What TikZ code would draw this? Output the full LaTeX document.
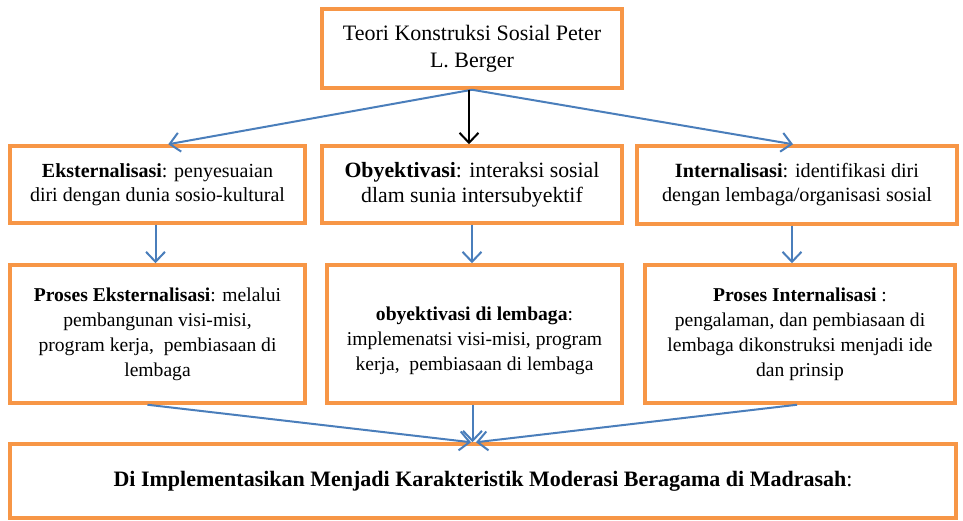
\documentclass[tikz,border=0pt]{standalone}
\usepackage{fontspec}
\setmainfont{Liberation Serif}
\usetikzlibrary{arrows.meta}
\definecolor{boxorange}{HTML}{F79646}
\definecolor{arrowblue}{HTML}{4A7EBB}
\tikzset{
  box/.style={draw=boxorange, line width=3.5pt, fill=white, align=center, inner sep=2pt},
  bluearrow/.style={draw=arrowblue, line width=2pt, -{Straight Barb[length=10pt,width=19pt,line width=2pt]}},
  blackarrow/.style={draw=black, line width=2pt, -{Straight Barb[length=10pt,width=19pt,line width=2pt]}},
  fA/.style={font=\fontsize{22}{27}\selectfont},
  fB/.style={font=\fontsize{20}{23.5}\selectfont},
  fBm/.style={font=\fontsize{21.8}{25}\selectfont},
  fBr/.style={font=\fontsize{20.2}{24}\selectfont},
  fC/.style={font=\fontsize{19.6}{25}\selectfont},
}
\begin{document}
\begin{tikzpicture}[x=1pt,y=-1pt]
\useasboundingbox[fill=white] (0,0) rectangle (963,521);
\node[box, fA, minimum width=300, minimum height=79] (top) at (472,48.5)
  {Teori Konstruksi Sosial Peter\\L. Berger};
\node[box, fB, minimum width=295, minimum height=77] (ext) at (157.5,184.5)
  {\textbf{Eksternalisasi}: penyesuaian\\diri dengan dunia sosio-kultural};
\node[box, fBm, minimum width=300, minimum height=77] (oby) at (472,184.5)
  {\textbf{Obyektivasi}: interaksi sosial\\dlam sunia intersubyektif};
\node[box, fBr, minimum width=320, minimum height=78] (int) at (797,185)
  {\textbf{Internalisasi}: identifikasi diri\\dengan lembaga/organisasi sosial};
\node[box, fC, minimum width=295, minimum height=138] (pext) at (157.5,334)
  {\textbf{Proses Eksternalisasi}: melalui\\pembangunan visi-misi,\\program kerja,\ \ pembiasaan di\\lembaga};
\node[box, fC, minimum width=295, minimum height=138] (poby) at (474.5,334)
  {\raisebox{-6pt}[\height][\depth]{\begin{tabular}{@{}c@{}}\textbf{obyektivasi di lembaga}:\\implemenatsi visi-misi, program\\kerja,\ \ pembiasaan di lembaga\end{tabular}}};
\node[box, fC, minimum width=310, minimum height=138] (pint) at (800,334)
  {\textbf{Proses Internalisasi} :\\pengalaman, dan pembiasaan di\\lembaga dikonstruksi menjadi ide\\dan prinsip};
\node[box, fA, minimum width=946, minimum height=74] (bot) at (483,481)
  {\textbf{Di Implementasikan Menjadi Karakteristik Moderasi Beragama di Madrasah}:};
% arrows from top
\draw[bluearrow] (top.south) -- ([xshift=160pt]ext.north west);
\draw[blackarrow] ([xshift=-3pt]top.south) -- ([xshift=-3pt]oby.north);
\draw[bluearrow] (top.south) -- ([xshift=-4pt]int.north);
% middle to third row
\draw[bluearrow] ([xshift=-2pt]ext.south) -- ([xshift=-2pt]ext.south |- pext.north);
\draw[bluearrow] (oby.south) -- (oby.south |- poby.north);
\draw[bluearrow] ([xshift=-5pt]int.south) -- ([xshift=-5pt]int.south |- pint.north);
% third row to bottom
\draw[bluearrow] ([xshift=-10pt]pext.south) -- ([xshift=-12pt]bot.north);
\draw[bluearrow] ([xshift=-2pt]poby.south) -- ([xshift=-2pt]poby.south |- bot.north);
\draw[bluearrow] ([xshift=-3pt]pint.south) -- ([xshift=-7pt]bot.north);
\end{tikzpicture}
\end{document}
